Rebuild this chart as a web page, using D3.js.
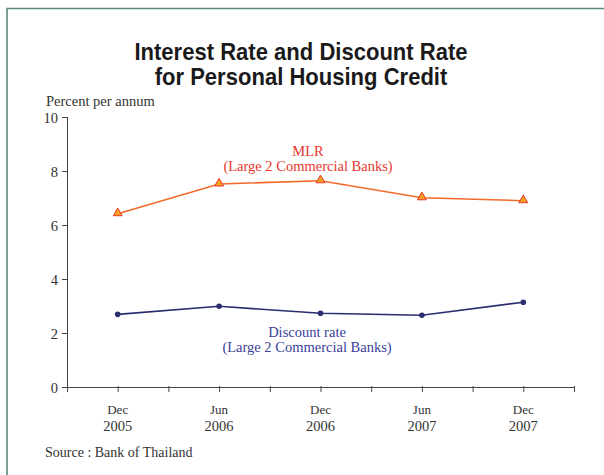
<!DOCTYPE html>
<meta charset="utf-8">
<style>
body { margin: 0; background: #fff; }
.serif { font-family: 'Liberation Serif', 'DejaVu Serif', serif; }
.axis text { font-family: 'Liberation Serif', serif; font-size: 14px; fill: #333; }
.axis line, .axis path { stroke: #444; }
</style>
<div id='chart'></div>
<script src='https://cdn.jsdelivr.net/npm/d3@7/dist/d3.min.js'></script>
<script>

const periods = [['Dec', '2005'], ['Jun', '2006'], ['Dec', '2006'], ['Jun', '2007'], ['Dec', '2007']];
const mlr = [6.42, 7.52, 7.64, 7.01, 6.9];
const discount = [2.69, 2.99, 2.73, 2.66, 3.14];
const yTicks = [0, 2, 4, 6, 8, 10];

const width = 604, height = 475;
const margin = {top: 117, left: 67, right: 30, bottom: 87};

const svg = d3.select('#chart').append('svg')
    .attr('width', width)
    .attr('height', height);

// frame
svg.append('path')
    .attr('d', 'M7,' + (height + 5) + 'V8.5H' + (width + 5))
    .attr('fill', 'none')
    .attr('stroke', '#5b8b7c')
    .attr('stroke-width', 1.6);

// title, squeezed a little to look condensed
svg.append('text')
    .attr('transform', 'translate(301,0) scale(0.9,1)')
    .attr('y', 60)
    .attr('text-anchor', 'middle')
    .style('font-family', "'Liberation Sans', sans-serif")
    .style('font-weight', 'bold')
    .style('font-size', '24.5px')
    .attr('fill', '#1a1a1a')
    .selectAll('tspan')
    .data(['Interest Rate and Discount Rate', 'for Personal Housing Credit'])
    .join('tspan')
        .attr('x', 0)
        .attr('dy', (d, i) => i ? 25 : 0)
        .text(d => d);

svg.append('text')
    .attr('class', 'serif')
    .attr('x', 46).attr('y', 106)
    .style('font-size', '14.5px')
    .attr('fill', '#333')
    .text('Percent per annum');

const x = d3.scaleLinear()
    .domain([0, periods.length * 2])
    .range([margin.left, width - margin.right]);

const y = d3.scaleLinear()
    .domain([0, 10])
    .range([height - margin.bottom - 1, margin.top]);

const xAxis = d3.axisBottom(x)
    .tickValues(d3.range(0, periods.length * 2 + 1))
    .tickSize(5)
    .tickSizeOuter(0)
    .tickFormat('');

svg.append('g')
    .attr('class', 'axis')
    .attr('transform', 'translate(0,' + y(0) + ')')
    .call(xAxis)
    .call(g => g.selectAll('.tick line').attr('y1', -1));

const xLabels = svg.append('g').attr('class', 'axis');
periods.forEach((p, i) => {
    const t = xLabels.append('text')
        .attr('x', x(i * 2 + 1))
        .attr('y', 414)
        .attr('text-anchor', 'middle')
        .style('font-size', '13px');
    t.append('tspan').attr('x', x(i * 2 + 1)).text(p[0]);
    t.append('tspan').attr('x', x(i * 2 + 1)).attr('dy', 17).style('font-size', '14.5px').text(p[1]);
});

svg.append('g')
    .attr('class', 'axis')
    .attr('transform', 'translate(' + margin.left + ',0)')
    .call(d3.axisLeft(y).tickValues(yTicks).tickSize(5).tickSizeOuter(0).tickPadding(4))
    .call(g => g.selectAll('.tick line').attr('x1', 1))
    .call(g => g.selectAll('.tick text').attr('dy', '0.35em').style('font-size', '14.5px'));

const line = d3.line()
    .x((d, i) => x(i * 2 + 1))
    .y(d => y(d));

svg.append('path')
    .datum(mlr)
    .attr('d', line)
    .attr('fill', 'none')
    .attr('stroke', '#f26a2a')
    .attr('stroke-width', 1.6);

svg.append('g').selectAll('path')
    .data(mlr)
    .join('path')
        .attr('d', d3.symbol(d3.symbolTriangle, 34))
        .attr('transform', (d, i) => 'translate(' + x(i * 2 + 1) + ',' + (y(d) - 0.5) + ')')
        .attr('fill', '#f5a01e')
        .attr('stroke', '#e8382c')
        .attr('stroke-width', 1);

svg.append('path')
    .datum(discount)
    .attr('d', line)
    .attr('fill', 'none')
    .attr('stroke', '#2a2d6e')
    .attr('stroke-width', 1.6);

svg.append('g').selectAll('circle')
    .data(discount)
    .join('circle')
        .attr('cx', (d, i) => x(i * 2 + 1))
        .attr('cy', d => y(d))
        .attr('r', 2.8)
        .attr('fill', '#2a2d6e');

function label(lines, cx, top, color) {
    const t = svg.append('text')
        .attr('class', 'serif')
        .attr('text-anchor', 'middle')
        .attr('fill', color)
        .style('font-size', '14.5px')
        .attr('y', top);
    lines.forEach((s, i) => {
        t.append('tspan').attr('x', cx).attr('dy', i ? 15 : 0).text(s);
    });
}

label(['MLR', '(Large 2 Commercial Banks)'], 308, 156, '#e8382c');
label(['Discount rate', '(Large 2 Commercial Banks)'], 307, 337, '#3a3f9a');

svg.append('text')
    .attr('class', 'serif')
    .attr('x', 45).attr('y', 457)
    .style('font-size', '14px')
    .attr('fill', '#333')
    .text('Source : Bank of  Thailand');

</script>
